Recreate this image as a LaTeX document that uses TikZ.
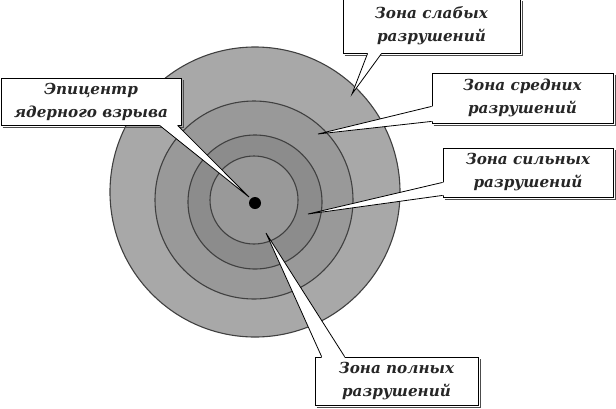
\documentclass[tikz,border=0pt]{standalone}
\usepackage{fontspec}
\setmainfont{DejaVu Serif}
\usetikzlibrary{calc}
\begin{document}
\begin{tikzpicture}[x=1pt,y=-1pt,
  zone/.style={draw=black!75, line width=1.1pt},
  lbl/.style={draw=black, line width=0.8pt, fill=white, align=center, inner sep=0pt,
    font=\bfseries\itshape\fontsize{15.2}{23}\selectfont, text=black!85},
  shadow/.style={draw=black!70, line width=0.8pt},
  tailfill/.style={fill=white},
  tailside/.style={draw=black, line width=0.8pt, line join=miter},
]
\useasboundingbox (0,0) rectangle (616,408);
\fill[white] (0,0) rectangle (616,408);

% zones
\filldraw[zone, fill=black!34] (255,192) circle[radius=145pt];
\filldraw[zone, fill=black!40] (254,200) circle[radius=99pt];
\filldraw[zone, fill=black!45] (255,202) circle[radius=67pt];
\filldraw[zone, fill=black!40] (254,200) circle[radius=44pt];
\fill[black] (255,203) circle[radius=6pt];

% boxes
\node[lbl, minimum width=177pt, minimum height=54pt] (b1) at (431.5,26) {Зона слабых\\разрушений};
\node[lbl, minimum width=180pt, minimum height=47pt] (b2) at (91,101.5) {Эпицентр\\ядерного взрыва};
\node[lbl, minimum width=181pt, minimum height=50pt] (b3) at (522.5,98) {Зона средних\\разрушений};
\node[lbl, minimum width=170pt, minimum height=49pt] (b4) at (528,172.5) {Зона сильных\\разрушений};
\node[lbl, minimum width=163pt, minimum height=48pt] (b5) at (396.5,381) {Зона полных\\разрушений};
\foreach \b in {b1,b2,b3,b4,b5}{
  \draw[shadow] ($(\b.south west)+(2,2)$) -- ($(\b.south east)+(2,2)$) -- ($(\b.north east)+(2,2)$);
}

% tail tips
\coordinate (t1) at (352,94);
\coordinate (t2) at (249,197);
\coordinate (t3) at (318,134);
\coordinate (t4) at (308,214);
\coordinate (t5) at (266,233);

% tails
% b1 (south side)
\coordinate (a1) at ($(b1.south west)+(25,0)$);
\coordinate (c1) at ($(b1.south west)+(39,0)$);
\fill[tailfill] ($(a1)+(0,-1.5)$) -- (a1) -- (t1) -- (c1) -- ($(c1)+(0,-1.5)$) -- cycle;
\draw[tailside] (a1) -- (t1) -- (c1);
% b2 (south side)
\coordinate (a2) at ($(b2.south west)+(159,0)$);
\coordinate (c2) at ($(b2.south west)+(177,0)$);
\fill[tailfill] ($(a2)+(0,-1.5)$) -- (a2) -- (t2) -- (c2) -- ($(c2)+(0,-1.5)$) -- cycle;
\draw[tailside] (a2) -- (t2) -- (c2);
% b3 (west side)
\coordinate (a3) at ($(b3.south west)+(0,-17)$);
\coordinate (c3) at ($(b3.south west)+(0,-2)$);
\fill[tailfill] ($(a3)+(1.5,0)$) -- (a3) -- (t3) -- (c3) -- ($(c3)+(1.5,0)$) -- cycle;
\draw[tailside] (a3) -- (t3) -- (c3);
% b4 (west side)
\coordinate (a4) at ($(b4.south west)+(0,-15)$);
\coordinate (c4) at ($(b4.south west)+(0,-2)$);
\fill[tailfill] ($(a4)+(1.5,0)$) -- (a4) -- (t4) -- (c4) -- ($(c4)+(1.5,0)$) -- cycle;
\draw[tailside] (a4) -- (t4) -- (c4);
% b5 (north side)
\coordinate (a5) at ($(b5.north west)+(7,0)$);
\coordinate (c5) at ($(b5.north west)+(30,0)$);
\fill[tailfill] ($(a5)+(0,1.5)$) -- (a5) -- (t5) -- (c5) -- ($(c5)+(0,1.5)$) -- cycle;
\draw[tailside] (a5) -- (t5) -- (c5);
\end{tikzpicture}
\end{document}
